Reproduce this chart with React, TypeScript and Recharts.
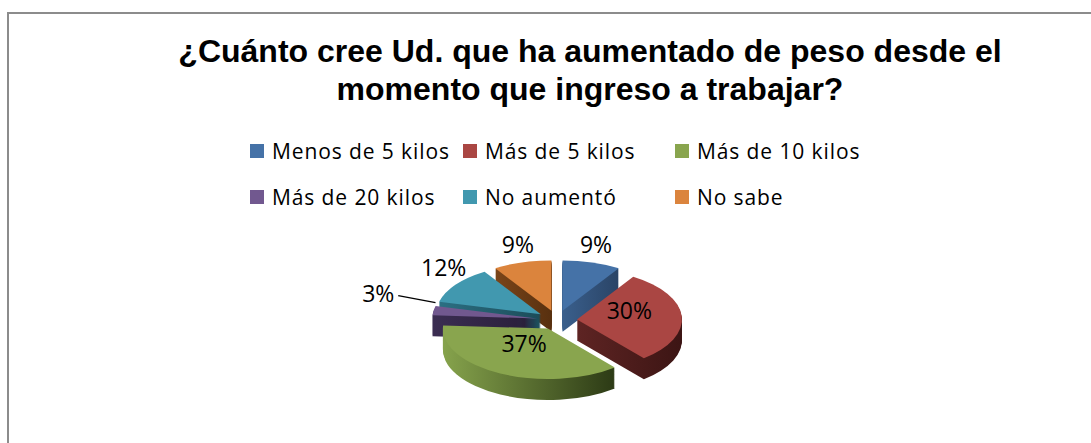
import React from 'react';
import { PieChart, Pie, Cell, Legend, Sector } from 'recharts';

const categories = ['Menos de 5 kilos', 'Más de 5 kilos', 'Más de 10 kilos', 'Más de 20 kilos', 'No aumentó', 'No sabe'];
const values = [9, 30, 37, 3, 12, 9];
const topColors = ['#4572A7', '#AA4643', '#89A54E', '#71588F', '#4198AF', '#DB843D'];
const wallLight = ['#3a5f8c', '#5e2423', '#86a34c', '#3b2d52', '#2b6f82', '#7a4519'];
const wallDark = ['#2a4466', '#3c1514', '#2c3a15', '#281e38', '#1c4c59', '#58300f'];
const titleLines = ['¿Cuánto cree Ud. que ha aumentado de peso desde el', 'momento que ingreso a trabajar?'];

const data = categories.map((name, i) => ({ name, value: values[i] }));

const CX = 557;
const CY = 320;
const R = 105;
const EXPLODE = 20;
const TILT = 0.48;
const DEPTH = 21;
const RAD = Math.PI / 180;
const layers = Array.from({ length: DEPTH }, (_, i) => DEPTH - i);

const squash = (props: any, withDefs: boolean) => {
  const { cx, cy, outerRadius, startAngle, endAngle, fill, index } = props;
  const mid = props.midAngle ?? (startAngle + endAngle) / 2;
  const a = -mid * RAD;
  const dx = EXPLODE * Math.cos(a);
  const dy = EXPLODE * Math.sin(a);
  return (
    <g transform={`translate(${dx},${cy + dy * TILT}) scale(1,${TILT}) translate(0,${-cy})`}>
      {withDefs && (
        <defs>
          <linearGradient id={`wall-${index}`} x1="0" y1="0" x2="1" y2="0">
            <stop offset="0%" stopColor={wallLight[index]} />
            <stop offset="100%" stopColor={wallDark[index]} />
          </linearGradient>
        </defs>
      )}
      <Sector cx={cx} cy={cy} innerRadius={0} outerRadius={outerRadius} startAngle={startAngle} endAngle={endAngle} fill={fill} stroke="none" />
    </g>
  );
};

const makeWallShape = (d: number) => (props: any) => squash(props, d === DEPTH);
const topShape = (props: any) => squash(props, false);

const renderLabel = (props: any) => {
  const { cx, cy, midAngle, outerRadius, value, percent } = props;
  const a = -midAngle * RAD;
  const c = Math.cos(a);
  const s = Math.sin(a);
  const style = { fontFamily: 'Open Sans', fontSize: 23, fill: '#000' };
  if (percent >= 0.2) {
    const rr = outerRadius * 0.5 + EXPLODE;
    return (
      <text x={cx + rr * c} y={cy + rr * TILT * s - 8} textAnchor="middle" dominantBaseline="central" style={style}>
        {`${value}%`}
      </text>
    );
  }
  const edge = outerRadius + EXPLODE;
  const small = percent < 0.05;
  const lx = cx + (edge + (small ? 56 : 15)) * c;
  const ly = cy + edge * TILT * s - 18;
  return (
    <g>
      {small && (
        <polyline
          points={`${lx + 20},${ly + 3} ${cx + (edge - 2) * c},${cy + edge * TILT * s - 8}`}
          fill="none"
          stroke="#000"
          strokeWidth={1.5}
        />
      )}
      <text x={lx} y={ly} textAnchor="middle" dominantBaseline="central" style={style}>
        {`${value}%`}
      </text>
    </g>
  );
};

const LegendContent = (props: any) => {
  const seen = new Set<string>();
  const items = (props.payload || [])
    .filter((p: any) => {
      if (p.type === 'none') return false;
      if (typeof p.color === 'string' && p.color.startsWith('url')) return false;
      if (seen.has(p.value)) return false;
      seen.add(p.value);
      return true;
    })
    .sort((a: any, b: any) => categories.indexOf(a.value) - categories.indexOf(b.value));
  return (
    <div style={{ display: 'grid', gridTemplateColumns: '213px 212px 230px', rowGap: 22 }}>
      {items.map((p: any) => {
        const idx = categories.indexOf(p.value);
        const color = p.color || (p.payload && p.payload.fill) || topColors[idx];
        return (
          <div key={p.value} style={{ display: 'flex', alignItems: 'center', height: 24, whiteSpace: 'nowrap' }}>
            <span style={{ display: 'inline-block', width: 14, height: 14, background: color, marginRight: 8 }} />
            <span style={{ fontFamily: 'Open Sans', fontSize: 21, letterSpacing: 0.9, color: '#000' }}>{p.value}</span>
          </div>
        );
      })}
    </div>
  );
};

export default function App() {
  return (
    <div style={{ position: 'absolute', left: 0, top: 0, width: 1091, height: 443, overflow: 'hidden', background: '#fff' }}>
      <div
        style={{
          position: 'absolute',
          left: 7,
          top: 12,
          width: 1200,
          height: 600,
          borderLeft: '2px solid #8c8c8c',
          borderTop: '2px solid #8c8c8c',
        }}
      />
      <div
        style={{
          position: 'absolute',
          left: 90,
          top: 32,
          width: 1000,
          textAlign: 'center',
          fontFamily: 'Liberation Sans, Arial, sans-serif',
          fontWeight: 'bold',
          fontSize: 32,
          lineHeight: '38px',
          color: '#000',
        }}
      >
        {titleLines.map((t) => (
          <div key={t}>{t}</div>
        ))}
      </div>
      <div style={{ position: 'absolute', left: 0, top: 0 }}>
        <PieChart width={1091} height={443} margin={{ top: 0, right: 0, bottom: 0, left: 0 }}>
          {layers.map((d) => (
            <Pie
              key={`wall-${d}`}
              data={data}
              dataKey="value"
              nameKey="name"
              cx={CX}
              cy={CY + d}
              outerRadius={R}
              startAngle={90}
              endAngle={-270}
              isAnimationActive={false}
              legendType="none"
              stroke="none"
              shape={makeWallShape(d)}
              activeShape={makeWallShape(d)}
              inactiveShape={makeWallShape(d)}
            >
              {data.map((e, i) => (
                <Cell key={e.name} fill={`url(#wall-${i})`} />
              ))}
            </Pie>
          ))}
          <Pie
            data={data}
            dataKey="value"
            nameKey="name"
            cx={CX}
            cy={CY}
            outerRadius={R}
            startAngle={90}
            endAngle={-270}
            isAnimationActive={false}
            stroke="none"
            shape={topShape}
            activeShape={topShape}
            inactiveShape={topShape}
            label={renderLabel}
            labelLine={false}
          >
            {data.map((e, i) => (
              <Cell key={e.name} fill={topColors[i]} />
            ))}
          </Pie>
          <Legend
            layout="vertical"
            align="center"
            verticalAlign="middle"
            itemSorter={null}
            content={<LegendContent />}
            wrapperStyle={{ position: 'absolute', left: 250, top: 139, width: 700 }}
          />
        </PieChart>
      </div>
    </div>
  );
}
